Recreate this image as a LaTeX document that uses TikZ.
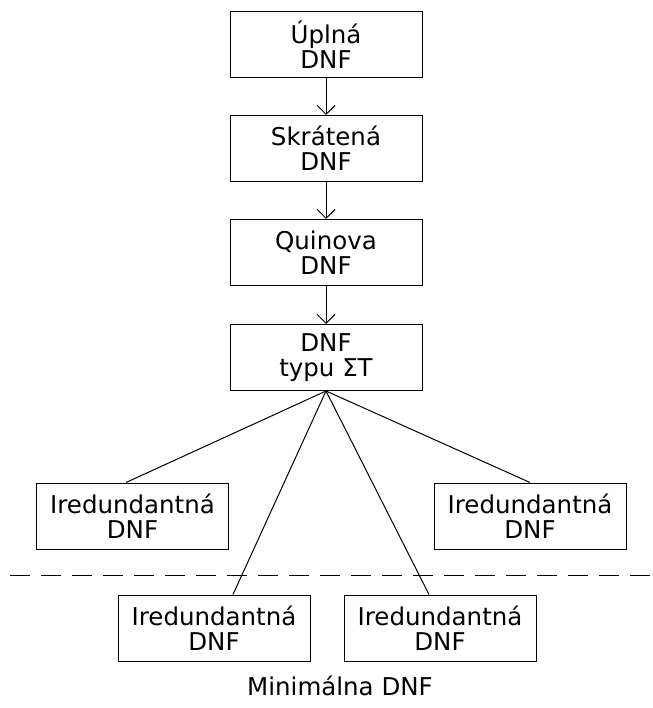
\documentclass[tikz,border=0pt]{standalone}
\usepackage{fontspec}
\setmainfont{DejaVu Sans}
\usetikzlibrary{arrows.meta}
\begin{document}
\begin{tikzpicture}[x=1pt,y=-1pt,line width=1pt,>={Straight Barb[length=9pt,width=18pt]},
  font=\fontsize{24.5}{25}\selectfont,
  dnfbox/.style={draw,minimum width=192pt,minimum height=66pt,inner sep=0pt,align=center}]
\useasboundingbox (0,0) rectangle (652,708);
\node[dnfbox] (full) at (326,45) {Úplná\\DNF};
\node[dnfbox] (short) at (326,148.5) {Skrátená\\DNF};
\node[dnfbox] (quine) at (326,252.5) {Quinova\\DNF};
\node[dnfbox] (sigma) at (326,357.5) {DNF\\typu ΣT};
\draw [->] (full) -- (short);
\draw [->] (short) -- (quine);
\draw [->] (quine) -- (sigma);
% irredundant forms
\node[dnfbox] (iredL) at (132.5,516) {Iredundantná\\DNF};
\node[dnfbox] (iredR) at (530,516) {Iredundantná\\DNF};
\node[dnfbox] (iredBL) at (214,628) {Iredundantná\\DNF};
\node[dnfbox] (iredBR) at (440,628) {Iredundantná\\DNF};
\draw (sigma.south) -- ([xshift=-6.5pt]iredL.north);
\draw (sigma.south) -- (iredR.north);
\draw (sigma.south) -- ([xshift=19pt]iredBL.north);
\draw (sigma.south) -- ([xshift=-11pt]iredBR.north);
% boundary of the minimal forms
\coordinate (cutL) at (10,575);
\coordinate (cutR) at (652,575);
\draw [dash pattern=on 20pt off 11pt] (cutL) -- (cutR);
\node[anchor=base] (minlabel) at (340,695) {Minimálna DNF};
\end{tikzpicture}
\end{document}
